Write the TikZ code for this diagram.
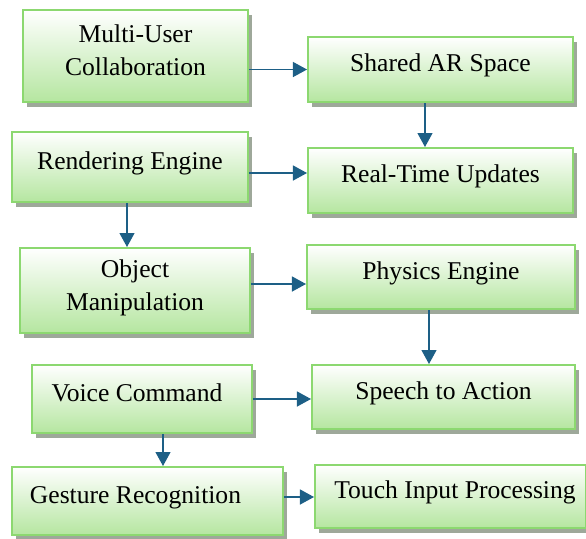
\documentclass[tikz,border=0pt]{standalone}
\usepackage{fontspec}
\setmainfont{Liberation Serif}
\usetikzlibrary{arrows.meta,shadows}
\definecolor{boxline}{HTML}{8CD870}
\definecolor{boxbot}{HTML}{B5E6A0}
\definecolor{shadowgray}{HTML}{9EA89A}
\definecolor{linkblue}{HTML}{1D5F86}
\begin{document}
\begin{tikzpicture}[x=0.5pt,y=-0.5pt,
  box/.style={draw=boxline,line width=1pt,top color=white,bottom color=boxbot,
    drop shadow={shadow xshift=2pt,shadow yshift=-2.5pt,fill=shadowgray,opacity=1},
    align=center,inner sep=0pt,text height=9pt,text depth=7pt,
    font=\fontsize{12.8}{16.5}\selectfont},
  twoline/.style={text height=25.5pt,text depth=6pt},
  link/.style={draw=linkblue,line width=0.6pt,-{Triangle[length=7pt,width=7.5pt]}}]
\useasboundingbox (0,0) rectangle (586,538);
% left column
\node[box,twoline,minimum width=112.5pt,minimum height=46pt] (mu) at (135.5,56) {Multi-User\\Collaboration};
\node[box,minimum width=118pt,minimum height=35pt] (re) at (130,167) {Rendering Engine};
\node[box,twoline,minimum width=115pt,minimum height=42.5pt] (om) at (135,290.5) {Object\\Manipulation};
\node[box,minimum width=110pt,minimum height=34pt] (vc) at (142,399) {Voice Command\hspace*{5pt}};
\node[box,minimum width=135.5pt,minimum height=34pt] (gr) at (147.5,501) {Gesture Recognition\hspace*{12pt}};
% right column
\node[box,minimum width=132.5pt,minimum height=32.5pt] (ar) at (440.5,69.5) {Shared AR Space};
\node[box,minimum width=132.5pt,minimum height=32.5pt] (rt) at (440.5,180.5) {Real-Time Updates};
\node[box,minimum width=134pt,minimum height=32pt] (ph) at (441,277) {Physics Engine};
\node[box,minimum width=131.5pt,minimum height=32pt] (sp) at (443.5,397) {Speech to Action};
\node[box,minimum width=135.5pt,minimum height=31.5pt] (tp) at (450.5,496.5) {\hspace*{4.5pt}Touch Input Processing};
% connectors
\draw[link] (mu.east |- ar.west) -- (ar.west);
\draw[link] ([xshift=-7.75pt]ar.south) -- ([xshift=-7.75pt]rt.north);
\draw[link] ([yshift=-3pt]re.east) -- ([yshift=-3pt]re.east -| rt.west);
\draw[link] ([xshift=-1.5pt]re.south) -- ([xshift=-1.5pt]re.south |- om.north);
\draw[link] ([yshift=3.25pt]om.east) -- ([yshift=3.25pt]om.east -| ph.west);
\draw[link] ([xshift=-6pt]ph.south) -- ([xshift=-6pt]ph.south |- sp.north);
\draw[link] (vc.east) -- (vc.east -| sp.west);
\draw[link] ([xshift=10.5pt]vc.south) -- ([xshift=10.5pt]vc.south |- gr.north);
\draw[link] ([yshift=2pt]gr.east) -- ([yshift=2pt]gr.east -| tp.west);
\end{tikzpicture}
\end{document}
